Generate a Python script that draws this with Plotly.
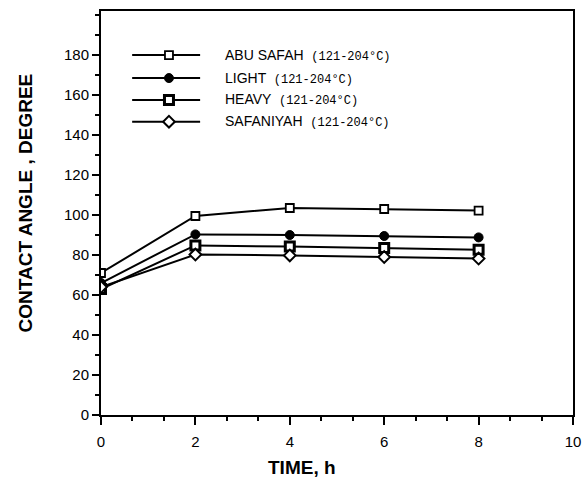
import plotly.graph_objects as go

# Contact angle vs. aging time for four crude oil cuts (121-204 °C)
time_h = [0, 2, 4, 6, 8]
abu_safah = [71, 99.5, 103.5, 103, 102.2]
light = [66, 90.3, 90, 89.5, 88.8]
heavy = [63, 84.8, 84.2, 83.5, 82.6]
safaniyah = [64, 80.2, 79.8, 79, 78.2]

series_names = ["ABU SAFAH", "LIGHT", "HEAVY", "SAFANIYAH"]
series_values = [abu_safah, light, heavy, safaniyah]
cut_range = "(121-204°C)"

x_ticks = [0, 2, 4, 6, 8, 10]
y_ticks = [0, 20, 40, 60, 80, 100, 120, 140, 160, 180]

markers = [
    dict(symbol="square", size=8, color="white", line=dict(color="black", width=1.8)),
    dict(symbol="circle", size=9, color="black", line=dict(color="black", width=1)),
    dict(symbol="square", size=9, color="white", line=dict(color="black", width=3)),
    dict(symbol="diamond", size=9, color="white", line=dict(color="black", width=2)),
]

fig = go.Figure()

for name, vals, mk in zip(series_names, series_values, markers):
    fig.add_trace(go.Scatter(
        x=time_h, y=vals, mode="lines+markers", name=name,
        line=dict(color="black", width=2), marker=mk, showlegend=False,
    ))

# Hand-drawn key in the upper-left corner, on an overlay axis in plot fractions
key_rows = [0.891, 0.834, 0.780, 0.726]
key_x0, key_xm, key_x1, key_text = 0.066, 0.144, 0.21, 0.258
for name, mk, ry in zip(series_names, markers, key_rows):
    fig.add_trace(go.Scatter(
        x=[key_x0, key_x1], y=[ry, ry], mode="lines",
        line=dict(color="black", width=2), xaxis="x2", yaxis="y2",
        showlegend=False, hoverinfo="skip",
    ))
    fig.add_trace(go.Scatter(
        x=[key_xm], y=[ry], mode="markers", marker=mk,
        xaxis="x2", yaxis="y2", showlegend=False, hoverinfo="skip",
    ))
    fig.add_annotation(
        x=key_text, y=ry, xref="x2", yref="y2", xanchor="left", yanchor="middle",
        showarrow=False,
        text=(f"{name}  <span style='font-family:Liberation Mono, Courier New, monospace;"
              f"font-size:12px'>{cut_range}</span>"),
        font=dict(family="Liberation Sans, Arial", size=14, color="black"),
    )

axis_font = dict(family="Liberation Sans, Arial", size=15, color="black")

fig.update_layout(
    width=583, height=485,
    margin=dict(l=101, r=10, t=11, b=70),
    paper_bgcolor="white", plot_bgcolor="white",
    xaxis=dict(
        range=[0, 10], tickvals=x_ticks, ticktext=[str(v) for v in x_ticks],
        ticks="outside", ticklen=8, tickwidth=2, tickcolor="black",
        showline=True, linecolor="black", linewidth=2, mirror=True,
        showgrid=False, zeroline=False, tickfont=axis_font, automargin=False,
        ticklabelstandoff=4,
        minor=dict(dtick=2 / 3, tick0=0, ticks="outside", ticklen=4,
                   tickwidth=2, tickcolor="black", showgrid=False),
    ),
    yaxis=dict(
        range=[0, 202], tickvals=y_ticks, ticktext=[str(v) for v in y_ticks],
        ticks="outside", ticklen=7, tickwidth=2, tickcolor="black",
        showline=True, linecolor="black", linewidth=2, mirror=True,
        showgrid=False, zeroline=False, tickfont=axis_font, automargin=False,
        minor=dict(dtick=10, tick0=0, ticks="outside", ticklen=4,
                   tickwidth=2, tickcolor="black", showgrid=False),
    ),
    xaxis2=dict(range=[0, 1], overlaying="x", visible=False, fixedrange=True),
    yaxis2=dict(range=[0, 1], overlaying="y", visible=False, fixedrange=True),
    annotations=list(fig.layout.annotations) + [
        dict(text="<b>TIME, h</b>", xref="paper", yref="paper", x=0.425, y=-0.129,
             xanchor="center", yanchor="middle", showarrow=False,
             font=dict(family="Liberation Sans, Arial", size=19, color="black")),
        dict(text="<b>CONTACT ANGLE , DEGREE</b>", xref="paper", yref="paper",
             x=-0.16, y=0.525, xanchor="center", yanchor="middle", textangle=-90,
             showarrow=False,
             font=dict(family="Liberation Sans, Arial", size=19, color="black")),
    ],
)

fig.write_html("out.html")
